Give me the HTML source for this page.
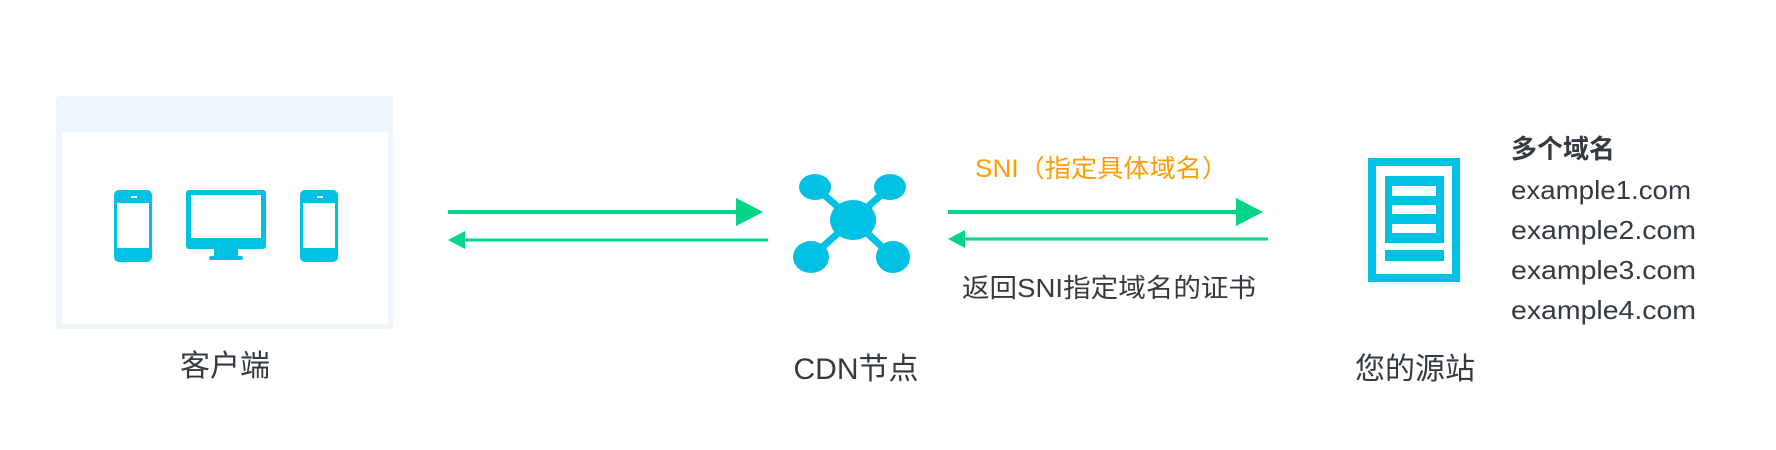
<!DOCTYPE html>
<html><head><meta charset="utf-8"><style>
html,body{margin:0;padding:0;background:#fff;}
body{width:1776px;height:450px;overflow:hidden;position:relative;}
svg{position:absolute;left:0;top:0;}
</style></head><body>
<svg width="1776" height="450" xmlns="http://www.w3.org/2000/svg" font-family="Liberation Sans, Noto Sans CJK SC, sans-serif">
<rect x="56" y="96" width="337" height="233" rx="4" fill="#eef4fc"/>
<rect x="62" y="132" width="326" height="192" fill="#fff"/>
<g fill="#00c1e4">
<rect x="114" y="190" width="38" height="72" rx="5"/>
<rect x="300" y="190" width="38" height="72" rx="5"/>
<rect x="186" y="190" width="80" height="59" rx="3"/>
<rect x="214" y="247" width="24" height="10"/>
<rect x="209" y="256" width="34" height="4" rx="2"/>
</g>
<g fill="#fff">
<rect x="117" y="203" width="32" height="45"/>
<rect x="303" y="203" width="32" height="45"/>
<rect x="131" y="196" width="6" height="2"/>
<rect x="317" y="196" width="6" height="2"/>
<rect x="191" y="195" width="70" height="43"/>
</g>
<g fill="#00d685" stroke="#00d685">
<line x1="448" y1="212" x2="740" y2="212" stroke-width="4"/>
<polygon points="736,198 763,212 736,226" stroke="none"/>
<line x1="462" y1="240" x2="768" y2="240" stroke-width="3"/>
<polygon points="465,231 448,240 465,249" stroke="none"/>
<line x1="948" y1="212" x2="1240" y2="212" stroke-width="4"/>
<polygon points="1236,198 1263,212 1236,226" stroke="none"/>
<line x1="962" y1="239" x2="1268" y2="239" stroke-width="3"/>
<polygon points="965,230 948,239 965,248" stroke="none"/>
</g>
<g fill="#00c1e4" stroke="#00c1e4" stroke-width="7">
<line x1="815" y1="187" x2="853" y2="220"/>
<line x1="890" y1="187" x2="853" y2="220"/>
<line x1="811" y1="257" x2="853" y2="220"/>
<line x1="893" y1="257" x2="853" y2="220"/>
</g>
<g fill="#00c1e4">
<ellipse cx="853" cy="220" rx="23" ry="20"/>
<ellipse cx="815" cy="187" rx="16" ry="13"/>
<ellipse cx="890" cy="187" rx="16" ry="13"/>
<ellipse cx="811" cy="257" rx="18" ry="16"/>
<ellipse cx="893" cy="257" rx="17" ry="16"/>
</g>
<rect x="1372" y="162" width="84" height="116" fill="none" stroke="#00c1e4" stroke-width="8"/>
<rect x="1385" y="176" width="59" height="67" fill="#00c1e4"/>
<g fill="#fff">
<rect x="1392" y="186" width="44" height="10"/>
<rect x="1392" y="205" width="44" height="9"/>
<rect x="1392" y="224" width="44" height="9"/>
</g>
<rect x="1385" y="250" width="59" height="11" fill="#00c1e4"/>
<g fill="#333a40">
<text x="225" y="376" font-size="30" text-anchor="middle">客户端</text>
<text x="856" y="379" font-size="30" text-anchor="middle">CDN节点</text>
<text x="1415" y="379" font-size="30" text-anchor="middle">您的源站</text>
<text x="962" y="297" font-size="26" textLength="294" lengthAdjust="spacingAndGlyphs">返回SNI指定域名的证书</text>
<text x="1511" y="158" font-size="26" font-weight="bold">多个域名</text>
<text x="1511" y="199" font-size="26" textLength="180" lengthAdjust="spacingAndGlyphs">example1.com</text>
<text x="1511" y="239" font-size="26" textLength="185" lengthAdjust="spacingAndGlyphs">example2.com</text>
<text x="1511" y="279" font-size="26" textLength="185" lengthAdjust="spacingAndGlyphs">example3.com</text>
<text x="1511" y="319" font-size="26" textLength="185" lengthAdjust="spacingAndGlyphs">example4.com</text>
</g>
<text x="975" y="177" font-size="25" fill="#ff9c00" textLength="253" lengthAdjust="spacingAndGlyphs">SNI（指定具体域名）</text>
</svg>
</body></html>
